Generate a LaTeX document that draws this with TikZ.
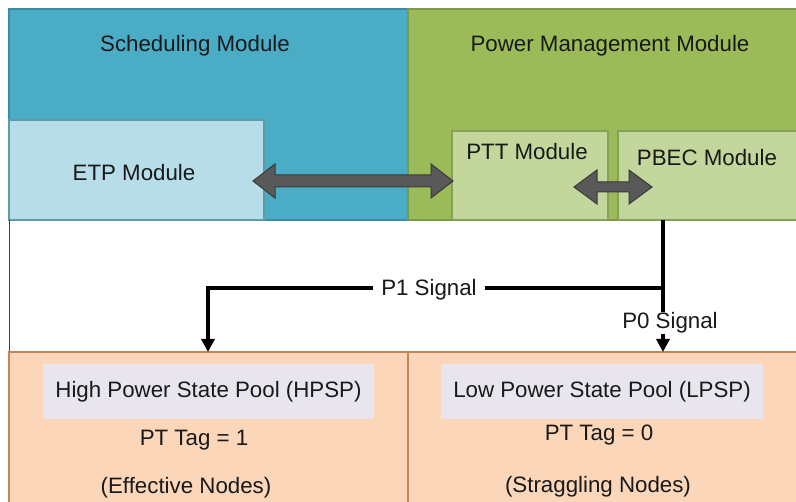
\documentclass[tikz,border=0pt]{standalone}
\usepackage{fontspec}
\setmainfont{Liberation Sans}
\usetikzlibrary{calc,arrows.meta}

\definecolor{schedfill}{HTML}{4BACC6}
\definecolor{scheddraw}{HTML}{3A8CA3}
\definecolor{etpfill}{HTML}{B7DDE8}
\definecolor{etpdraw}{HTML}{5E9AAA}
\definecolor{pmfill}{HTML}{9BBB59}
\definecolor{pmdraw}{HTML}{7A9A45}
\definecolor{subfill}{HTML}{C3D69B}
\definecolor{subdraw}{HTML}{86A05A}
\definecolor{poolfill}{HTML}{FBD6B9}
\definecolor{pooldraw}{HTML}{C7845A}
\definecolor{tagfill}{HTML}{E8E5EE}
\definecolor{arrowfill}{HTML}{595959}
\definecolor{arrowdraw}{HTML}{3A3A3A}

\tikzset{
  every node/.style={font=\fontsize{22.3}{26}\selectfont, text=black!90},
  region/.style={draw=#1, line width=1.2pt},
  blockarrow/.style={fill=arrowfill, draw=arrowdraw, line width=1pt, line join=miter},
  signal/.style={line width=3.8pt, black, -{Triangle[length=13pt,width=13pt]}},
  siglabel/.style={fill=white, inner xsep=8pt, inner ysep=1pt},
  poolbox/.style={fill=tagfill, inner sep=0pt, minimum height=55pt},
}

\begin{document}
\begin{tikzpicture}[x=1pt,y=-1pt]
  \useasboundingbox (0,0) rectangle (796,502);
  \clip (0,0) rectangle (796,502);

  % top modules
  \draw[region=scheddraw, fill=schedfill] (9,9) rectangle (408,220);
  \draw[region=pmdraw, fill=pmfill] (408,9) rectangle (800,220);
  \node (sched) at (195,46) {Scheduling Module};
  \node (pm) at (610,46) {Power Management Module};

  \draw[region=etpdraw, fill=etpfill] (9,120) rectangle (264,220);
  \node (etp) at (134,173) {ETP Module};

  \draw[region=subdraw, fill=subfill] (452,131) rectangle (608,220);
  \node (ptt) at (527,152) {PTT Module};
  \draw[region=subdraw, fill=subfill] (618,131) rectangle (800,220);
  \node (pbec) at (707,158) {PBEC Module};

  % block double arrows between the sub-modules
  \coordinate (e1) at (253,181);
  \coordinate (e2) at (453,181);
  \draw[blockarrow] (e1) -- ++(22,-17) -- ++(0,11) -- ($(e2)+(-22,-6)$) -- ++(0,-11)
    -- (e2) -- ++(-22,17) -- ++(0,-11) -- ($(e1)+(22,6)$) -- ++(0,11) -- cycle;

  \coordinate (p1) at (574,187);
  \coordinate (p2) at (652,187);
  \draw[blockarrow] (p1) -- ++(23,-17) -- ++(0,12) -- ($(p2)+(-23,-5)$) -- ++(0,-12)
    -- (p2) -- ++(-23,17) -- ++(0,-12) -- ($(p1)+(23,5)$) -- ++(0,12) -- cycle;

  % left frame edge of the open area
  \draw[line width=1.4pt, black!75] (9.5,220) -- (9.5,352);

  % pools
  \draw[region=pooldraw, fill=poolfill] (9,352) rectangle (408,510);
  \draw[region=pooldraw, fill=poolfill] (408,352) rectangle (800,510);

  \node[poolbox, minimum width=331pt] (hpsp) at (208.5,391.5) {High Power State Pool (HPSP)};
  \node (tag1) at (194,440) {PT Tag = 1};
  \node (eff) at (186,488) {(Effective Nodes)};

  \node[poolbox, minimum width=322pt] (lpsp) at (602,391.5) {Low Power State Pool (LPSP)};
  \node (tag0) at (599,435) {PT Tag = 0};
  \node (strag) at (598,487) {(Straggling Nodes)};

  % power-state signals
  \coordinate (src) at (663,220);
  \coordinate (fork) at (663,288);
  \coordinate (hin) at (208,352);
  \coordinate (lin) at (663,352);
  \draw[signal, -] (src) -- (fork);
  \draw[signal] (fork) -- (fork -| hin) -- (hin);
  \draw[signal] (fork) -- (lin);
  \node[siglabel] (p1lbl) at (429,290) {P1 Signal};
  \node[siglabel, inner xsep=1pt] (p0lbl) at (670,323) {P0 Signal};
\end{tikzpicture}
\end{document}
